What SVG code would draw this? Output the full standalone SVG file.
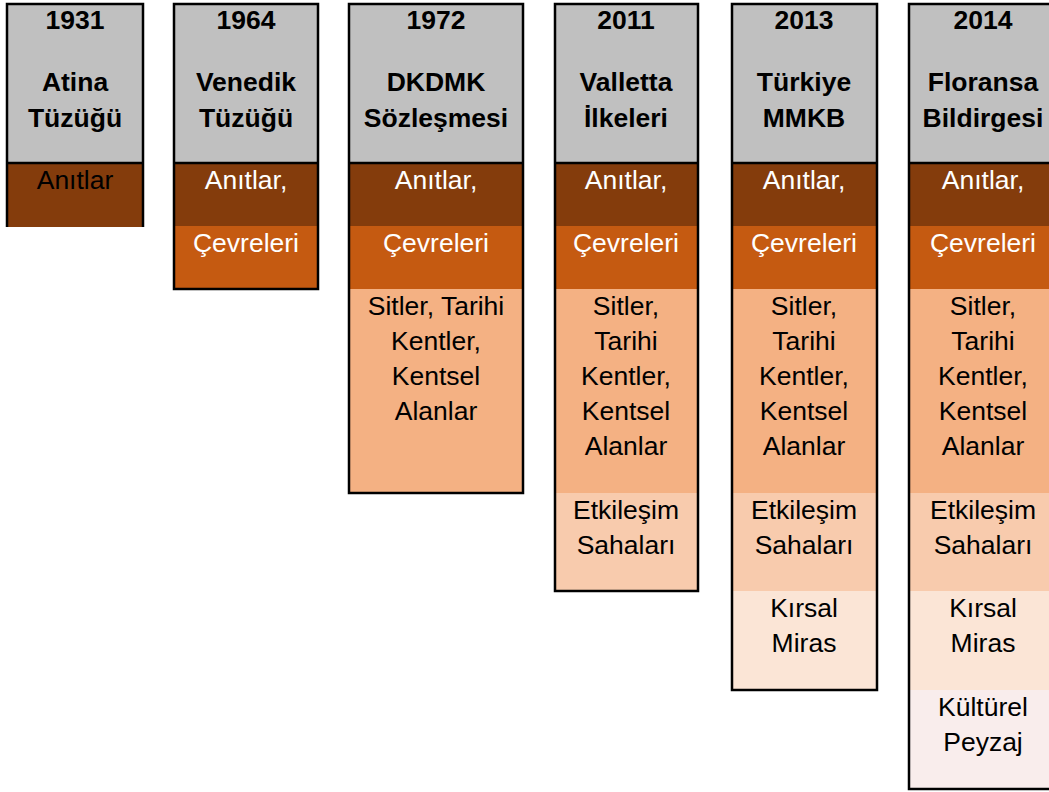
<svg xmlns="http://www.w3.org/2000/svg" width="1049" height="792" viewBox="0 0 1049 792">
<style>
.hd{font-family:"Liberation Sans",Arial,sans-serif;font-weight:bold;font-size:26.5px;fill:#000;text-anchor:middle}
.tx{font-family:"Liberation Sans",Arial,sans-serif;font-size:26.5px;text-anchor:middle}
.b{fill:#000}.w{fill:#fff}
.ol{fill:none;stroke:#000;stroke-width:2.5}
.g{fill:#C0C0C0}.c1{fill:#843C0C}.c2{fill:#C55A11}.c3{fill:#F4B183}.c4{fill:#F8CBAD}.c5{fill:#FBE5D6}.c6{fill:#F9EDEC}
</style>
<rect width="1049" height="792" fill="#fff"/>
<g id="col-1931">
<rect class="g" x="7" y="4" width="136" height="159"/>
<rect class="c1" x="7" y="163" width="136" height="64"/>
<text class="hd" x="75" y="29">1931</text>
<text class="hd" x="75" y="91">Atina</text>
<text class="hd" x="75" y="127">Tüzüğü</text>
<text class="tx b" x="75" y="189">Anıtlar</text>
<path class="ol" d="M7,227 V4 H143 V227 M7,163 H143"/>
</g>
<g id="col-1964">
<rect class="g" x="174" y="4" width="144" height="159"/>
<rect class="c1" x="174" y="163" width="144" height="63"/>
<rect class="c2" x="174" y="226" width="144" height="63"/>
<text class="hd" x="246" y="29">1964</text>
<text class="hd" x="246" y="91">Venedik</text>
<text class="hd" x="246" y="127">Tüzüğü</text>
<text class="tx w" x="246" y="189">Anıtlar,</text>
<text class="tx w" x="246" y="252">Çevreleri</text>
<rect class="ol" x="174" y="4" width="144" height="285"/>
<path class="ol" d="M174,163 H318"/>
</g>
<g id="col-1972">
<rect class="g" x="349" y="4" width="174" height="159"/>
<rect class="c1" x="349" y="163" width="174" height="63"/>
<rect class="c2" x="349" y="226" width="174" height="63"/>
<rect class="c3" x="349" y="289" width="174" height="204"/>
<text class="hd" x="436" y="29">1972</text>
<text class="hd" x="436" y="91">DKDMK</text>
<text class="hd" x="436" y="127">Sözleşmesi</text>
<text class="tx w" x="436" y="189">Anıtlar,</text>
<text class="tx w" x="436" y="252">Çevreleri</text>
<text class="tx b" x="436" y="315">Sitler, Tarihi</text>
<text class="tx b" x="436" y="350">Kentler,</text>
<text class="tx b" x="436" y="385">Kentsel</text>
<text class="tx b" x="436" y="420">Alanlar</text>
<rect class="ol" x="349" y="4" width="174" height="489"/>
<path class="ol" d="M349,163 H523"/>
</g>
<g id="col-2011">
<rect class="g" x="555" y="4" width="143" height="159"/>
<rect class="c1" x="555" y="163" width="143" height="63"/>
<rect class="c2" x="555" y="226" width="143" height="63"/>
<rect class="c3" x="555" y="289" width="143" height="204"/>
<rect class="c4" x="555" y="493" width="143" height="98"/>
<text class="hd" x="626" y="29">2011</text>
<text class="hd" x="626" y="91">Valletta</text>
<text class="hd" x="626" y="127">İlkeleri</text>
<text class="tx w" x="626" y="189">Anıtlar,</text>
<text class="tx w" x="626" y="252">Çevreleri</text>
<text class="tx b" x="626" y="315">Sitler,</text>
<text class="tx b" x="626" y="350">Tarihi</text>
<text class="tx b" x="626" y="385">Kentler,</text>
<text class="tx b" x="626" y="420">Kentsel</text>
<text class="tx b" x="626" y="455">Alanlar</text>
<text class="tx b" x="626" y="519">Etkileşim</text>
<text class="tx b" x="626" y="554">Sahaları</text>
<rect class="ol" x="555" y="4" width="143" height="587"/>
<path class="ol" d="M555,163 H698"/>
</g>
<g id="col-2013">
<rect class="g" x="732" y="4" width="145" height="159"/>
<rect class="c1" x="732" y="163" width="145" height="63"/>
<rect class="c2" x="732" y="226" width="145" height="63"/>
<rect class="c3" x="732" y="289" width="145" height="204"/>
<rect class="c4" x="732" y="493" width="145" height="98"/>
<rect class="c5" x="732" y="591" width="145" height="99"/>
<text class="hd" x="804" y="29">2013</text>
<text class="hd" x="804" y="91">Türkiye</text>
<text class="hd" x="804" y="127">MMKB</text>
<text class="tx w" x="804" y="189">Anıtlar,</text>
<text class="tx w" x="804" y="252">Çevreleri</text>
<text class="tx b" x="804" y="315">Sitler,</text>
<text class="tx b" x="804" y="350">Tarihi</text>
<text class="tx b" x="804" y="385">Kentler,</text>
<text class="tx b" x="804" y="420">Kentsel</text>
<text class="tx b" x="804" y="455">Alanlar</text>
<text class="tx b" x="804" y="519">Etkileşim</text>
<text class="tx b" x="804" y="554">Sahaları</text>
<text class="tx b" x="804" y="617">Kırsal</text>
<text class="tx b" x="804" y="652">Miras</text>
<rect class="ol" x="732" y="4" width="145" height="686"/>
<path class="ol" d="M732,163 H877"/>
</g>
<g id="col-2014">
<rect class="g" x="909" y="4" width="148" height="159"/>
<rect class="c1" x="909" y="163" width="148" height="63"/>
<rect class="c2" x="909" y="226" width="148" height="63"/>
<rect class="c3" x="909" y="289" width="148" height="204"/>
<rect class="c4" x="909" y="493" width="148" height="98"/>
<rect class="c5" x="909" y="591" width="148" height="99"/>
<rect class="c6" x="909" y="690" width="148" height="99"/>
<text class="hd" x="983" y="29">2014</text>
<text class="hd" x="983" y="91">Floransa</text>
<text class="hd" x="983" y="127">Bildirgesi</text>
<text class="tx w" x="983" y="189">Anıtlar,</text>
<text class="tx w" x="983" y="252">Çevreleri</text>
<text class="tx b" x="983" y="315">Sitler,</text>
<text class="tx b" x="983" y="350">Tarihi</text>
<text class="tx b" x="983" y="385">Kentler,</text>
<text class="tx b" x="983" y="420">Kentsel</text>
<text class="tx b" x="983" y="455">Alanlar</text>
<text class="tx b" x="983" y="519">Etkileşim</text>
<text class="tx b" x="983" y="554">Sahaları</text>
<text class="tx b" x="983" y="617">Kırsal</text>
<text class="tx b" x="983" y="652">Miras</text>
<text class="tx b" x="983" y="716">Kültürel</text>
<text class="tx b" x="983" y="751">Peyzaj</text>
<rect class="ol" x="909" y="4" width="148" height="785"/>
<path class="ol" d="M909,163 H1057"/>
</g>
<g id="connectors"/>
</svg>
